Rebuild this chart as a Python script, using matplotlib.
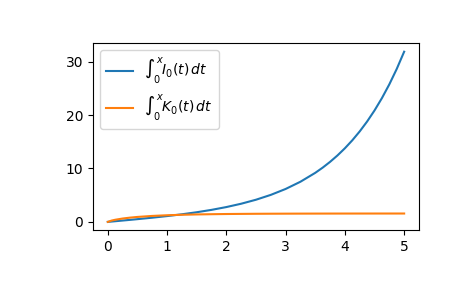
import numpy as np
import matplotlib
matplotlib.use("Agg")
import matplotlib.pyplot as plt

# values (x from 0 to 5)
x = [0.0, 0.0625, 0.125, 0.25, 0.375, 0.5, 0.75, 1.0, 1.25, 1.5, 1.75,
     2.0, 2.25, 2.5, 2.75, 3.0, 3.25, 3.5, 3.625, 3.75, 3.875, 4.0,
     4.125, 4.25, 4.375, 4.5, 4.625, 4.75, 4.875, 5.0]
int_i0 = [0.0, 0.0625, 0.125, 0.251, 0.379, 0.511, 0.786, 1.087, 1.423,
          1.806, 2.251, 2.775, 3.399, 4.148, 5.056, 6.161, 7.515, 9.179,
          10.152, 11.233, 12.436, 13.775, 15.267, 16.931, 18.785, 20.854,
          23.165, 25.744, 28.627, 31.849]
int_k0 = [0.0, 0.243, 0.399, 0.629, 0.797, 0.927, 1.115, 1.243, 1.331,
          1.395, 1.439, 1.474, 1.497, 1.517, 1.530, 1.540, 1.548, 1.553,
          1.5555, 1.558, 1.5595, 1.561, 1.562, 1.563, 1.564, 1.565,
          1.5655, 1.566, 1.5667, 1.567]

fig = plt.figure(figsize=(4.65, 2.88), dpi=100)
ax = fig.add_axes([0.2, 0.2, 0.701, 0.65])
ax.plot(x, int_i0, label=r"$\int_0^x I_0(t)\,dt$")
ax.plot(x, int_k0, label=r"$\int_0^x K_0(t)\,dt$")
ax.legend(loc="upper left")
plt.savefig("out.png", dpi=100)
